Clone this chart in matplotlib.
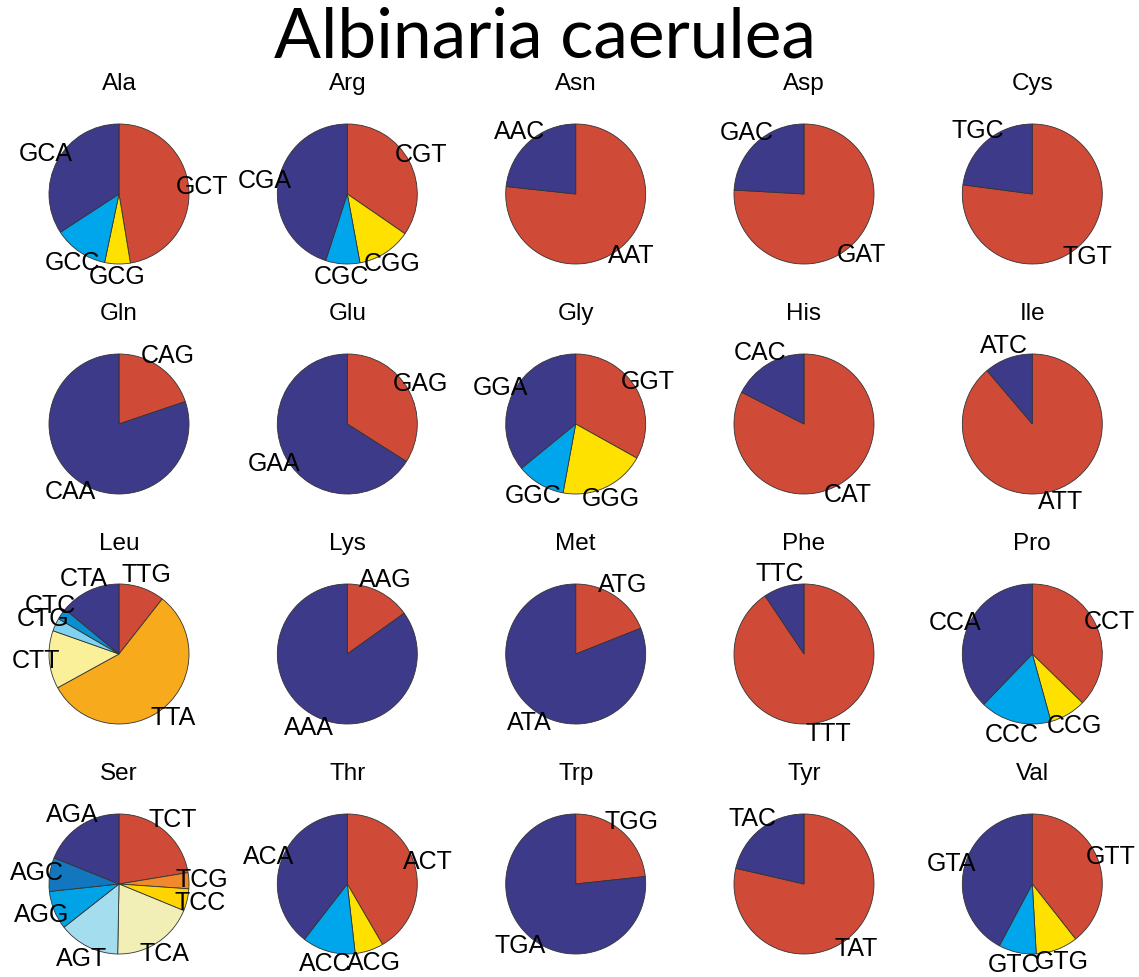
import matplotlib.pyplot as plt

# amino acids in the order of the grid (5 columns x 4 rows)
amino_acids = ['Ala', 'Arg', 'Asn', 'Asp', 'Cys',
               'Gln', 'Glu', 'Gly', 'His', 'Ile',
               'Leu', 'Lys', 'Met', 'Phe', 'Pro',
               'Ser', 'Thr', 'Trp', 'Tyr', 'Val']

# codons of each amino acid, in clockwise order from 12 o'clock
codons = [
    ['GCT', 'GCG', 'GCC', 'GCA'],
    ['CGT', 'CGG', 'CGC', 'CGA'],
    ['AAT', 'AAC'],
    ['GAT', 'GAC'],
    ['TGT', 'TGC'],
    ['CAG', 'CAA'],
    ['GAG', 'GAA'],
    ['GGT', 'GGG', 'GGC', 'GGA'],
    ['CAT', 'CAC'],
    ['ATT', 'ATC'],
    ['TTG', 'TTA', 'CTT', 'CTG', 'CTC', 'CTA'],
    ['AAG', 'AAA'],
    ['ATG', 'ATA'],
    ['TTT', 'TTC'],
    ['CCT', 'CCG', 'CCC', 'CCA'],
    ['TCT', 'TCG', 'TCC', 'TCA', 'AGT', 'AGG', 'AGC', 'AGA'],
    ['ACT', 'ACG', 'ACC', 'ACA'],
    ['TGG', 'TGA'],
    ['TAT', 'TAC'],
    ['GTT', 'GTG', 'GTC', 'GTA'],
]

# relative codon usage
usage = [
    [0.474, 0.059, 0.125, 0.342],
    [0.346, 0.125, 0.079, 0.450],
    [0.767, 0.233],
    [0.759, 0.241],
    [0.771, 0.229],
    [0.198, 0.802],
    [0.340, 0.660],
    [0.331, 0.198, 0.112, 0.359],
    [0.825, 0.175],
    [0.888, 0.112],
    [0.106, 0.564, 0.134, 0.030, 0.026, 0.140],
    [0.151, 0.849],
    [0.190, 0.810],
    [0.906, 0.094],
    [0.373, 0.084, 0.165, 0.378],
    [0.224, 0.037, 0.051, 0.191, 0.141, 0.089, 0.078, 0.189],
    [0.416, 0.066, 0.123, 0.395],
    [0.233, 0.767],
    [0.786, 0.214],
    [0.394, 0.097, 0.087, 0.422],
]

RED = '#CF4A37'
NAVY = '#3D3A89'
palettes = {
    2: [RED, NAVY],
    4: [RED, '#FFE100', '#00A6EC', NAVY],
    6: [RED, '#F8AA1D', '#FAF09A', '#80D2F0', '#0B8FD0', NAVY],
    8: [RED, '#F08A2A', '#FFD400', '#F1EEB6', '#A3DDEE', '#00A3E6', '#1277BE', NAVY],
}

W, H = 1139, 977
fig = plt.figure(figsize=(W / 100, H / 100), dpi=100)

fig.text(545 / W, 1 - 38 / H, 'Albinaria caerulea', fontsize=50,
         family='Lato', ha='center', va='center')

col_x = [119, 347.3, 575.7, 804, 1032.3]
row_y = [194, 424, 654, 884]
r_px = 70
lim = 1.62
size = 2 * lim * r_px

for i, aa in enumerate(amino_acids):
    cx = col_x[i % 5]
    cy = row_y[i // 5]
    ax = fig.add_axes([(cx - size / 2) / W, 1 - (cy + size / 2) / H, size / W, size / H])
    vals = usage[i]
    wedges, texts = ax.pie(vals, labels=codons[i], colors=palettes[len(vals)],
                           startangle=90, counterclock=False, labeldistance=1.19,
                           wedgeprops=dict(edgecolor='#333333', linewidth=0.6),
                           textprops=dict(fontsize=18, family='Liberation Sans'))
    for t in texts:
        t.set_ha('center')
        t.set_va('center')
        t.set_clip_on(False)
    ax.set_xlim(-lim, lim)
    ax.set_ylim(-lim, lim)
    ax.set_aspect('equal')
    ax.axis('off')
    ax.text(0, 1.57, aa, fontsize=17.5, family='Liberation Sans',
            ha='center', va='center', clip_on=False)

fig.savefig('out.png', dpi=100)
